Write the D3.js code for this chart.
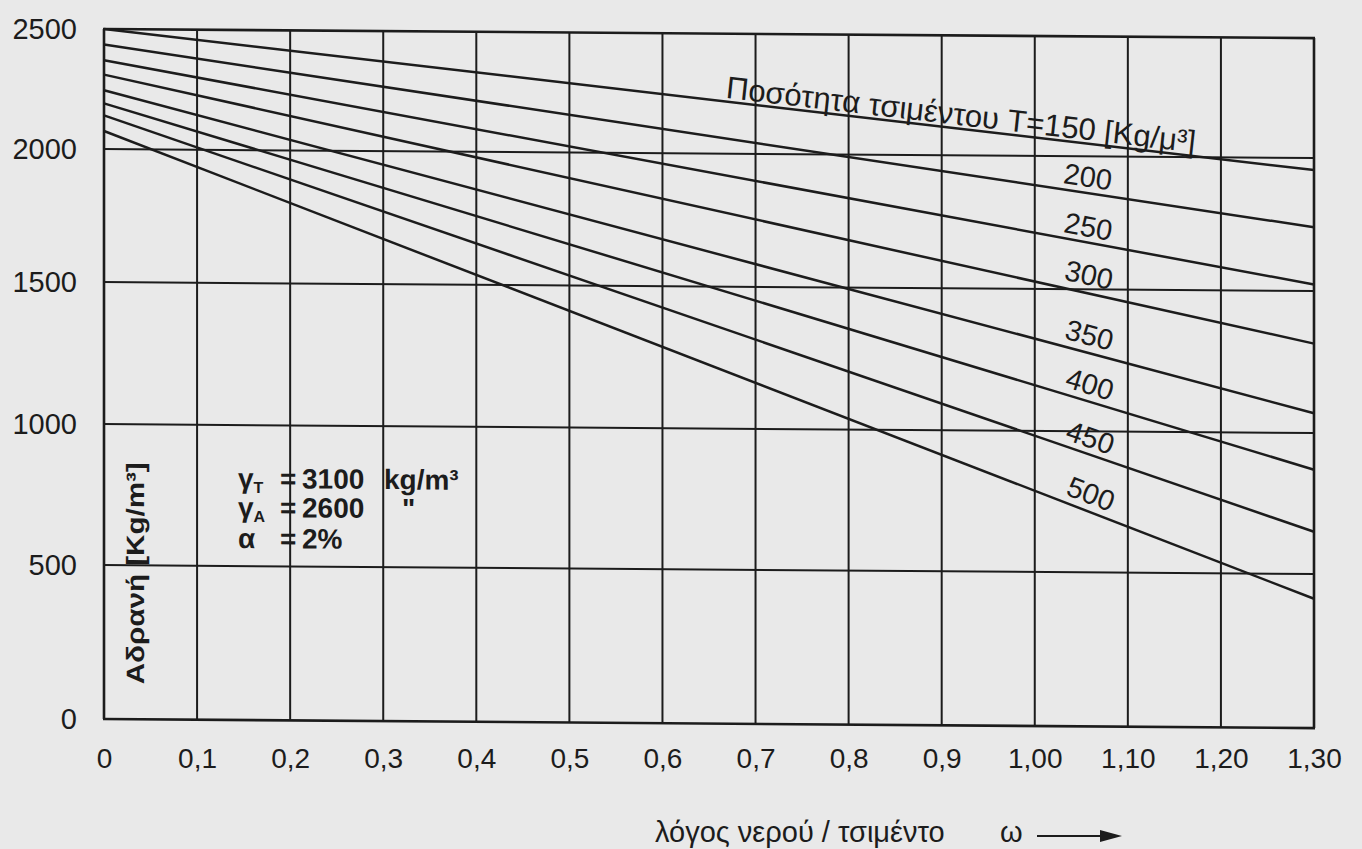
<!DOCTYPE html>
<html>
<head>
<meta charset="utf-8">
<script src="https://cdn.jsdelivr.net/npm/d3@7/dist/d3.min.js"></script>
<style>
  html, body { margin: 0; padding: 0; background: #e9e9e9; }
  svg { display: block; font-family: "Liberation Sans", Arial, Helvetica, sans-serif; }
</style>
</head>
<body>
<div id="chart"></div>
<script>
// cement content T [kg/m3] and aggregate content read at w/c = 0 and w/c = 1.30
const cement = [150, 200, 250, 300, 350, 400, 450, 500];
const aggAtStart = [2500, 2435, 2370, 2310, 2245, 2190, 2140, 2075];
const aggAtEnd = [1955, 1740, 1525, 1315, 1070, 870, 650, 420];

const wcTicks = [0, 0.1, 0.2, 0.3, 0.4, 0.5, 0.6, 0.7, 0.8, 0.9, 1.0, 1.1, 1.2, 1.3];
const wcTickLabels = ["0", "0,1", "0,2", "0,3", "0,4", "0,5", "0,6", "0,7", "0,8", "0,9", "1,00", "1,10", "1,20", "1,30"];
const aggTicks = [0, 500, 1000, 1500, 2000, 2500];

const paramSymbols = ["γ", "γ", "α"];
const paramSubs = ["T", "A", ""];
const paramValues = ["3100", "2600", "2%"];
const paramUnits = ["kg/m³", "\"", ""];

const width = 1362;
const height = 849;
const wcMax = 1.3;

const svg = d3.select("#chart")
  .append("svg")
  .attr("width", width)
  .attr("height", height);

svg.append("rect")
  .attr("width", width)
  .attr("height", height)
  .attr("fill", "#e9e9e9");

const x = d3.scaleLinear()
  .domain([0, wcMax])
  .range([104, 1314]);

// the scanned grid is a bit squeezed towards the top, so the y scale is piecewise
const y = d3.scaleLinear()
  .domain(aggTicks)
  .range([719, 565, 424, 282, 149, 29]);

const ink = "#1c1c1c";

// plot area, with the slight tilt of the scan
const plot = svg.append("g")
  .attr("transform", `translate(${x(0)},0) skewY(0.43) translate(${-x(0)},0)`);

plot.append("g")
  .selectAll("line")
  .data(wcTicks)
  .join("line")
    .attr("x1", d => x(d))
    .attr("x2", d => x(d))
    .attr("y1", y(0))
    .attr("y2", y(2500))
    .attr("stroke", ink)
    .attr("stroke-width", (d, i) => (i === 0 || i === wcTicks.length - 1) ? 2.6 : 2);

plot.append("g")
  .selectAll("line")
  .data(aggTicks)
  .join("line")
    .attr("x1", x(0) - 1)
    .attr("x2", x(wcMax) + 1)
    .attr("y1", d => y(d))
    .attr("y2", d => y(d))
    .attr("stroke", ink)
    .attr("stroke-width", (d, i) => (i === 0 || i === aggTicks.length - 1) ? 2.6 : 2);

const series = cement.map((t, i) => ({
  t,
  pts: [{ w: 0, a: aggAtStart[i] }, { w: wcMax, a: aggAtEnd[i] }]
}));

const line = d3.line()
  .x(d => x(d.w))
  .y(d => y(d.a));

plot.append("g")
  .selectAll("path")
  .data(series)
  .join("path")
    .attr("d", d => line(d.pts))
    .attr("fill", "none")
    .attr("stroke", ink)
    .attr("stroke-width", 2.5);

function along(s, w) {
  const [p0, p1] = s.pts;
  const a = p0.a + (p1.a - p0.a) * (w - p0.w) / (p1.w - p0.w);
  const ang = Math.atan2(y(p1.a) - y(p0.a), x(p1.w) - x(p0.w)) * 180 / Math.PI;
  return `translate(${x(w)},${y(a)}) rotate(${ang})`;
}

// cement labels on the lines
plot.append("g")
  .selectAll("text")
  .data(series.slice(1))
  .join("text")
    .attr("transform", d => along(d, 1.055))
    .attr("dy", -4)
    .attr("text-anchor", "middle")
    .attr("font-size", 29)
    .attr("fill", ink)
    .text(d => d.t);

plot.append("text")
  .attr("transform", along(series[0], 0.667))
  .attr("dy", -3)
  .attr("font-size", 31)
  .attr("fill", ink)
  .text(`Ποσότητα τσιμέντου T=${cement[0]} [Kg/μ³]`);

// material constants
const params = plot.append("g")
  .attr("font-size", 28)
  .attr("font-weight", "bold")
  .attr("fill", ink);

const rowBase = [487, 516, 547];
paramSymbols.forEach((s, i) => {
  const t = params.append("text").attr("y", rowBase[i]);
  t.append("tspan").attr("x", 238).text(s);
  if (paramSubs[i]) {
    t.append("tspan").attr("dy", 5).attr("font-size", 16).text(paramSubs[i]);
  }
  t.append("tspan").attr("x", 280).attr("y", rowBase[i]).text("=");
  t.append("tspan").attr("x", 302).text(paramValues[i]);
  if (paramUnits[i] === "\"") {
    t.append("tspan").attr("x", 402).text(paramUnits[i]);
  } else if (paramUnits[i]) {
    t.append("tspan").attr("x", 384).text(paramUnits[i]);
  }
});

// y title inside the plot
plot.append("text")
  .attr("transform", `translate(144,684) rotate(-90)`)
  .attr("font-size", 25)
  .attr("font-weight", "bold")
  .attr("textLength", 222)
  .attr("lengthAdjust", "spacingAndGlyphs")
  .attr("fill", ink)
  .text("Αδρανή [Kg/m³]");

// axes labels
function yAxis(g) {
  g.attr("transform", `translate(${x(0)},0)`)
    .call(d3.axisLeft(y).tickValues(aggTicks).tickSize(0).tickPadding(27).tickFormat(d3.format("d")))
    .call(g => g.select(".domain").remove())
    .attr("font-size", 29)
    .attr("font-family", null);
}

function xAxis(g) {
  g.attr("transform", `translate(0,748)`)
    .call(d3.axisBottom(x).tickValues(wcTicks).tickSize(0).tickPadding(0).tickFormat((d, i) => wcTickLabels[i]))
    .call(g => g.select(".domain").remove())
    .attr("font-size", 28)
    .attr("font-family", null);
}

svg.append("g").call(yAxis);
svg.append("g").call(xAxis);
svg.selectAll(".tick text").attr("fill", ink);

// x title with arrow
svg.append("text")
  .attr("x", 655)
  .attr("y", 842)
  .attr("font-size", 29)
  .attr("fill", ink)
  .text("λόγος νερού / τσιμέντο");

svg.append("text")
  .attr("x", 1000)
  .attr("y", 842)
  .attr("font-size", 29)
  .attr("fill", ink)
  .text("ω");

svg.append("line")
  .attr("x1", 1037).attr("x2", 1104)
  .attr("y1", 836).attr("y2", 836)
  .attr("stroke", ink)
  .attr("stroke-width", 2);

svg.append("path")
  .attr("d", "M1100,830 L1122,836 L1100,842 Z")
  .attr("fill", ink);
</script>
</body>
</html>
